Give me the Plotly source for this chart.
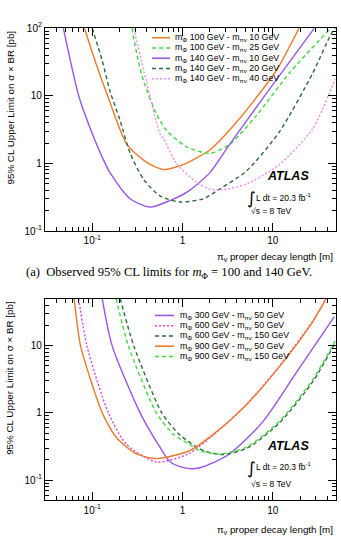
import plotly.graph_objects as go

W, H = 341, 544

# ---------------- data: panel (a) ----------------
a_x_m100_10 = [0.082, 0.112, 0.148, 0.24, 0.37, 0.48, 0.62, 1.0, 2.0, 3.3, 6.8, 11.2, 19.5]
a_y_m100_10 = [100, 28, 10, 1.95, 1.12, 0.91, 0.81, 0.95, 1.58, 3.1, 10, 25, 100]

a_x_m100_25 = [0.275, 0.32, 0.372, 0.513, 0.66, 1.107, 2.0, 3.3, 6.5, 15.1, 43.6]
a_y_m100_25 = [100, 35, 16.2, 5.4, 3.1, 1.76, 1.41, 1.9, 5.0, 21.4, 100]

a_x_m140_10 = [0.0479, 0.0708, 0.0955, 0.139, 0.158, 0.263, 0.437, 0.724, 1.107, 2.0, 3.31, 5.25, 8.1, 28.8]
a_y_m140_10 = [100, 10, 3.24, 1.0, 0.724, 0.30, 0.226, 0.282, 0.372, 0.724, 1.9, 4.47, 10, 100]

a_x_m140_20 = [0.1, 0.129, 0.158, 0.204, 0.263, 0.372, 0.562, 0.933, 1.70, 2.57, 5.07, 11.7, 27.5, 43.6, 50]
a_y_m140_20 = [100, 33, 11.5, 4.27, 1.41, 0.575, 0.331, 0.269, 0.30, 0.417, 0.767, 2.88, 21.4, 79.4, 105]

a_x_m140_40 = [0.288, 0.398, 0.562, 0.617, 0.859, 1.43, 2.0, 2.82, 5.0, 11.7, 27.5, 49]
a_y_m140_40 = [100, 16.2, 2.75, 2.32, 1.0, 0.525, 0.417, 0.41, 0.49, 0.955, 3.24, 17.8]

# ---------------- data: panel (b) ----------------
b_x_m300_50 = [0.129, 0.166, 0.339, 0.562, 0.724, 1.0, 1.32, 1.78, 3.31, 7.76, 18.0, 47.9]
b_y_m300_50 = [50, 10, 1.0, 0.309, 0.19, 0.155, 0.148, 0.162, 0.245, 0.741, 3.89, 26.9]

b_x_m600_50 = [0.0708, 0.0871, 0.151, 0.24, 0.513, 0.933, 1.2, 2.19, 5.0, 11.7, 27.5, 38.9]
b_y_m600_50 = [50, 10, 1.0, 0.339, 0.186, 0.219, 0.251, 0.468, 1.29, 4.9, 22.9, 50]

b_x_m600_150 = [0.204, 0.288, 0.589, 0.891, 1.26, 1.78, 2.82, 5.25, 12.0, 28.2, 49]
b_y_m600_150 = [50, 10, 1.0, 0.5, 0.347, 0.269, 0.24, 0.302, 0.724, 3.02, 11.0]

b_x_m900_50 = [0.063, 0.0741, 0.0955, 0.129, 0.186, 0.309, 0.513, 0.933, 1.2, 2.19, 5.0, 11.7, 27.5, 38.5]
b_y_m900_50 = [50, 10, 3.16, 1.0, 0.427, 0.245, 0.209, 0.245, 0.275, 0.479, 1.29, 4.79, 22.4, 49]

b_x_m900_150 = [0.184, 0.251, 0.513, 0.794, 1.2, 1.55, 2.57, 5.07, 11.7, 27.5, 49]
b_y_m900_150 = [50, 10, 1.0, 0.479, 0.339, 0.275, 0.245, 0.309, 0.741, 3.09, 11.7]

# ---------------- labels ----------------
labels_a = ["m<sub>Φ</sub> 100 GeV - m<sub>πv</sub> 10 GeV",
            "m<sub>Φ</sub> 100 GeV - m<sub>πv</sub> 25 GeV",
            "m<sub>Φ</sub> 140 GeV - m<sub>πv</sub> 10 GeV",
            "m<sub>Φ</sub> 140 GeV - m<sub>πv</sub> 20 GeV",
            "m<sub>Φ</sub> 140 GeV - m<sub>πv</sub> 40 GeV"]
labels_b = ["m<sub>Φ</sub> 300 GeV - m<sub>πv</sub> 50 GeV",
            "m<sub>Φ</sub> 600 GeV - m<sub>πv</sub> 50 GeV",
            "m<sub>Φ</sub> 600 GeV - m<sub>πv</sub> 150 GeV",
            "m<sub>Φ</sub> 900 GeV - m<sub>πv</sub> 50 GeV",
            "m<sub>Φ</sub> 900 GeV - m<sub>πv</sub> 150 GeV"]

x_ticks = [0.1, 1, 10]
x_ticktext = ["10<sup>-1</sup>", "1", "10"]
ya_ticks = [0.1, 1, 10, 100]
ya_ticktext = ["10<sup>-1</sup>", "1", "10", "10<sup>2</sup>"]
yb_ticks = [0.1, 1, 10]
yb_ticktext = ["10<sup>-1</sup>", "1", "10"]

ORANGE = "#f07a2a"
LGREEN = "#3ddc3d"
PURPLE = "#9a55e8"
DGREEN = "#2f6a3a"
PINK_A = "#ee88ee"
PINK_B = "#e040e0"

DASH = "4px,3px"
DOT = "2px,2px"

FONT = "Liberation Sans, Arial, sans-serif"


def px2x(px):
    return px / W


def py2y(py):
    return 1 - py / H


fig = go.Figure()

series_a = [
    (a_x_m100_10, a_y_m100_10, ORANGE, "solid"),
    (a_x_m100_25, a_y_m100_25, LGREEN, DASH),
    (a_x_m140_10, a_y_m140_10, PURPLE, "solid"),
    (a_x_m140_20, a_y_m140_20, DGREEN, DASH),
    (a_x_m140_40, a_y_m140_40, PINK_A, DOT),
]
series_b = [
    (b_x_m300_50, b_y_m300_50, PURPLE, "solid"),
    (b_x_m600_50, b_y_m600_50, PINK_B, DOT),
    (b_x_m600_150, b_y_m600_150, DGREEN, DASH),
    (b_x_m900_50, b_y_m900_50, ORANGE, "solid"),
    (b_x_m900_150, b_y_m900_150, LGREEN, DASH),
]

for (xs, ys, c, d), name in zip(series_a, labels_a):
    fig.add_trace(go.Scatter(x=xs, y=ys, mode="lines", name=name,
                             line=dict(color=c, dash=d, width=1.4, shape="spline", smoothing=0.7),
                             xaxis="x", yaxis="y"))
for (xs, ys, c, d), name in zip(series_b, labels_b):
    fig.add_trace(go.Scatter(x=xs, y=ys, mode="lines", name=name,
                             line=dict(color=c, dash=d, width=1.4, shape="spline", smoothing=0.7),
                             xaxis="x2", yaxis="y2"))


def minor_vals(lo, hi):
    vals = []
    for e in range(lo, hi):
        for k in range(2, 10):
            vals.append(k * 10 ** e)
    return vals


def axis_common():
    return dict(type="log", showline=True, linecolor="black", linewidth=1.2, mirror="ticks",
                ticks="inside", ticklen=8, tickwidth=1, tickcolor="black",
                showgrid=False, zeroline=False,
                tickfont=dict(family=FONT, size=10, color="black"),
                tickmode="array")


def minor(vals):
    return dict(ticks="inside", ticklen=4, tickcolor="black", tickwidth=1,
                tickvals=vals, showgrid=False)


XDOM = [px2x(45), px2x(336)]
xa = axis_common()
xa.update(domain=XDOM, range=[-1.523, 1.699], tickvals=x_ticks, ticktext=x_ticktext,
          minor=minor(minor_vals(-2, 2)), anchor="y")
ya = axis_common()
ya.update(domain=[py2y(229.5), py2y(21.7)], range=[-1, 2], tickvals=ya_ticks, ticktext=ya_ticktext,
          minor=minor(minor_vals(-1, 2)), anchor="x")
xb = axis_common()
xb.update(domain=XDOM, range=[-1.523, 1.699], tickvals=x_ticks, ticktext=x_ticktext,
          minor=minor(minor_vals(-2, 2)), anchor="y2")
yb = axis_common()
yb.update(domain=[py2y(505.5), py2y(298.7)], range=[-1.30103, 1.69897], tickvals=yb_ticks,
          ticktext=yb_ticktext, minor=minor(minor_vals(-2, 2)), anchor="x2")

annotations = []
shapes = []

YTITLE = "95% CL Upper Limit on σ × BR [pb]"
XTITLE = "π<sub>v</sub> proper decay length [m]"

for top_py, xt_py in [(22, 256), (299, 536)]:
    annotations.append(dict(text=YTITLE, x=px2x(10), y=py2y(top_py), xref="paper", yref="paper",
                            xanchor="center", yanchor="top", textangle=-90, showarrow=False,
                            font=dict(family=FONT, size=9.8, color="black")))
    annotations.append(dict(text=XTITLE, x=px2x(335), y=py2y(xt_py), xref="paper", yref="paper",
                            xanchor="right", yanchor="middle", showarrow=False,
                            font=dict(family=FONT, size=9.8, color="black")))

# ATLAS labels
for atl_py, lum_py, s_py in [(172.7, 195, 209), (450, 471, 489)]:
    annotations.append(dict(text="<b><i>ATLAS</i></b>", x=px2x(311), y=py2y(atl_py), xref="paper",
                            yref="paper", xanchor="right", yanchor="middle", showarrow=False,
                            font=dict(family=FONT, size=12.5, color="black")))
    annotations.append(dict(text="∫", x=px2x(245), y=py2y(lum_py + 1), xref="paper", yref="paper",
                            xanchor="left", yanchor="middle", showarrow=False,
                            font=dict(family="DejaVu Sans", size=17, color="black")))
    annotations.append(dict(text="L dt = 20.3 fb<sup>-1</sup>", x=px2x(254), y=py2y(lum_py),
                            xref="paper", yref="paper", xanchor="left", yanchor="middle",
                            showarrow=False, font=dict(family=FONT, size=8.5, color="black")))
    annotations.append(dict(text="√s = 8 TeV", x=px2x(249), y=py2y(s_py), xref="paper", yref="paper",
                            xanchor="left", yanchor="middle", showarrow=False,
                            font=dict(family=FONT, size=8.5, color="black")))

# caption
annotations.append(dict(text="(a)  Observed 95% CL limits for <i>m</i><sub>Φ</sub> = 100 and 140 GeV.",
                        x=px2x(168.5), y=py2y(273), xref="paper", yref="paper",
                        xanchor="center", yanchor="middle", showarrow=False,
                        font=dict(family="Liberation Serif, Times New Roman, serif", size=12.6,
                                  color="black")))

# legends (drawn manually, compact ROOT-like spacing)
legend_a_rows = [31.5, 42, 52.5, 63, 73.5]
legend_b_rows = [316, 326.5, 337, 347.5, 358]
for rows, series, labels, x0, x1, xt in [(legend_a_rows, series_a, labels_a, 152, 170, 173),
                                         (legend_b_rows, series_b, labels_b, 155, 174, 178)]:
    for r, (xs, ys, c, d), lab in zip(rows, series, labels):
        shapes.append(dict(type="line", xref="paper", yref="paper", x0=px2x(x0), x1=px2x(x1),
                           y0=py2y(r), y1=py2y(r), line=dict(color=c, dash=d, width=1.6)))
        annotations.append(dict(text=lab, x=px2x(xt), y=py2y(r), xref="paper", yref="paper",
                                xanchor="left", yanchor="middle", showarrow=False,
                                font=dict(family=FONT, size=8.8, color="black")))

fig.update_layout(width=W, height=H, margin=dict(l=0, r=0, t=0, b=0),
                  paper_bgcolor="white", plot_bgcolor="white", showlegend=False,
                  xaxis=xa, yaxis=ya, xaxis2=xb, yaxis2=yb,
                  annotations=annotations, shapes=shapes)

fig.write_html("out.html")
